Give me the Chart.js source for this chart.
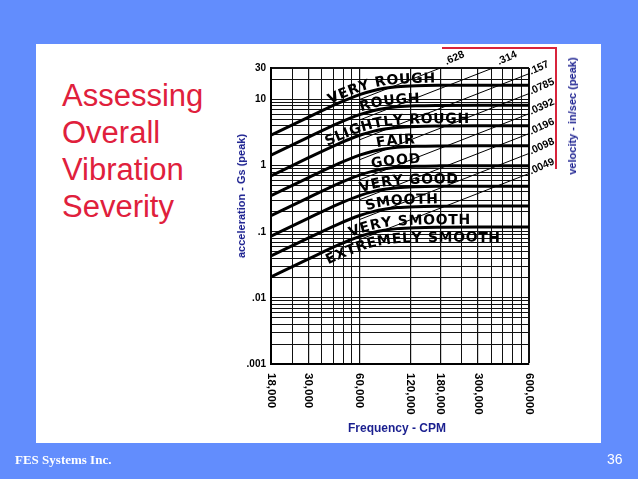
<!DOCTYPE html>
<html>
<head>
<meta charset="utf-8">
<script src="https://cdn.jsdelivr.net/npm/chart.js@4.4.1/dist/chart.umd.min.js"></script>
<style>
  html, body { margin: 0; padding: 0; }
  body { width: 638px; height: 479px; background: #628dfd; position: relative; overflow: hidden;
         font-family: "Liberation Sans", Arial, sans-serif; }
  #panel { position: absolute; left: 36px; top: 44px; width: 565px; height: 399px; background: #fff; }
  #title { position: absolute; left: 62px; top: 77px; color: #e0203c; font-size: 31px; line-height: 37px; }
  #bracket { position: absolute; left: 442px; top: 47px; width: 113px; height: 120px;
             border-top: 2px solid #d8243c; border-right: 2px solid #d8243c; }
  .axt { position: absolute; color: #1a1f8f; font-weight: bold; white-space: nowrap; }
  .vert { transform: translate(-50%, -50%) rotate(-90deg); }
  #footL { position: absolute; left: 15px; top: 452px; color: #fff; font: bold 13px "Liberation Serif", "Times New Roman", serif; }
  #footR { position: absolute; left: 607px; top: 451px; color: #fff; font-size: 14px; }
  canvas { position: absolute; left: 0; top: 0; }
</style>
</head>
<body>
<div id="panel"></div>
<div id="title">Assessing<br>Overall<br>Vibration<br>Severity</div>
<div id="bracket"></div>
<canvas id="chart" width="638" height="479"></canvas>
<div class="axt vert" style="left:241px; top:196px; font-size:11px;">acceleration - Gs (peak)</div>
<div class="axt vert" style="left:572px; top:116px; font-size:11px;">velocity - in/sec (peak)</div>
<div class="axt" style="left:397px; top:428px; font-size:12px; transform:translate(-50%,-50%);">Frequency - CPM</div>
<div id="footL">FES Systems Inc.</div>
<div id="footR">36</div>

<script>
// frequency (CPM) at which the severity boundaries were read
const cpmPoints = [18000, 30000, 45000, 60000, 72000, 84000, 100000, 130000, 180000, 300000, 600000];

// boundary curves (acceleration, g peak), top to bottom
const edgeVeryRough     = [2.9, 5.43, 8.83, 11.9, 13.6, 14.8, 15.6, 16.15, 16.4, 16.5, 16.5];
const edgeRough         = [1.44, 2.7, 4.39, 5.9, 6.77, 7.34, 7.76, 8.03, 8.14, 8.2, 8.2];
const edgeSlightlyRough = [0.70, 1.32, 2.14, 2.88, 3.3, 3.58, 3.78, 3.92, 3.97, 4.0, 4.0];
const edgeFair          = [0.352, 0.66, 1.07, 1.44, 1.65, 1.79, 1.89, 1.96, 1.99, 2.0, 2.0];
const edgeGood          = [0.176, 0.329, 0.535, 0.719, 0.826, 0.895, 0.946, 0.979, 0.993, 1.0, 1.0];
const edgeVeryGood      = [0.086, 0.161, 0.262, 0.352, 0.405, 0.439, 0.464, 0.48, 0.487, 0.49, 0.49];
const edgeSmooth        = [0.043, 0.081, 0.131, 0.176, 0.202, 0.219, 0.232, 0.24, 0.243, 0.245, 0.245];
const edgeVerySmooth    = [0.0208, 0.0388, 0.0631, 0.0848, 0.0975, 0.1056, 0.1116, 0.1155, 0.1172, 0.118, 0.118];
const edges = [edgeVeryRough, edgeRough, edgeSlightlyRough, edgeFair, edgeGood, edgeVeryGood, edgeSmooth, edgeVerySmooth];

// zone names, where each starts (CPM), which boundary it rides on
const zoneNames    = ['VERY ROUGH', 'ROUGH', 'SLIGHTLY ROUGH', 'FAIR', 'GOOD', 'VERY GOOD', 'SMOOTH', 'VERY SMOOTH', 'EXTREMELY SMOOTH'];
const zoneStartCpm = [40000, 61000, 38500, 76000, 71000, 61000, 66000, 53000, 39000];
const zoneEdge     = [0, 1, 2, 3, 4, 5, 6, 7, 7];

// constant-velocity lines (in/sec peak): g at the start and end frequency
const velLabels  = ['.628', '.314', '.157', '.0785', '.0392', '.0196', '.0098', '.0049'];
const velFromCpm = 60000, velToCpm = 600000;
const velFromG   = [10, 4.9, 2.46, 1.23, 0.61, 0.305, 0.153, 0.076];
const velToG     = [100, 49, 24.6, 12.3, 6.1, 3.05, 1.53, 0.76];

// axes
const xMin = 18000, xMax = 600000, yMin = 0.001, yMax = 30;
const xGrid = [18000, 24000, 30000, 36000, 42000, 48000, 54000, 60000,
               120000, 180000, 240000, 300000, 360000, 420000, 480000, 540000, 600000];
const xTickVals = [18000, 30000, 60000, 120000, 180000, 300000, 600000];
const xTickText = ['18,000', '30,000', '60,000', '120,000', '180,000', '300,000', '600,000'];
const yTickVals = [30, 10, 1, 0.1, 0.01, 0.001];
const yTickText = ['30', '10', '1', '.1', '.01', '.001'];

// log-paper horizontal rules: 1..9 per decade, up to 30
const yGrid = [];
for (let d = -3; d <= 1; d++) for (let m = 1; m <= 9; m++) { const v = m * Math.pow(10, d); if (v <= yMax * 1.0001) yGrid.push(v); }

const FONT = '"Liberation Sans", Arial, sans-serif';

function curveY(meta, px) {
  const pts = meta.data;
  if (px <= pts[0].x) return pts[0].y;
  for (let i = 1; i < pts.length; i++) {
    if (px <= pts[i].x) { const a = pts[i - 1], b = pts[i]; return a.y + (px - a.x) / (b.x - a.x) * (b.y - a.y); }
  }
  return pts[pts.length - 1].y;
}

function textAlong(ctx, meta, text, startX, off, spacing) {
  let cx = startX;
  for (const ch of text) {
    const w = ctx.measureText(ch).width, mid = cx + w / 2;
    const ang = Math.atan2(curveY(meta, mid + 5) - curveY(meta, mid - 5), 10);
    ctx.save();
    ctx.translate(mid, curveY(meta, mid) + off);
    ctx.rotate(ang);
    ctx.fillText(ch, 0, 0);
    ctx.restore();
    cx += (w + spacing) * Math.cos(ang);
  }
}

const overlay = {
  id: 'overlay',
  afterDatasetsDraw(chart) {
    const { ctx, chartArea: a } = chart, x = chart.scales.x, y = chart.scales.y;
    ctx.save();
    ctx.fillStyle = '#000';

    // y tick labels
    ctx.font = 'bold 10px ' + FONT; ctx.textAlign = 'right'; ctx.textBaseline = 'middle';
    yTickVals.forEach((v, i) => ctx.fillText(yTickText[i], a.left - 5, y.getPixelForValue(v)));

    // x tick labels, turned clockwise
    ctx.font = 'bold 11.5px ' + FONT; ctx.textAlign = 'left';
    xTickVals.forEach((v, i) => {
      ctx.save(); ctx.translate(x.getPixelForValue(v), a.bottom + 9); ctx.rotate(Math.PI / 2);
      ctx.fillText(xTickText[i], 0, 0); ctx.restore();
    });

    // velocity labels
    ctx.font = 'bold 10.5px ' + FONT; ctx.textBaseline = 'alphabetic';
    velLabels.forEach((t, i) => {
      let px, py;
      if (velToG[i] > yMax) {
        const f = Math.log(yMax / velFromG[i]) / Math.log(velToG[i] / velFromG[i]);
        const cpm = Math.exp(Math.log(velFromCpm) + f * Math.log(velToCpm / velFromCpm));
        px = x.getPixelForValue(cpm) + 6; py = a.top - 3;
      } else {
        px = a.right + 2; py = y.getPixelForValue(velToG[i]) + 1;
      }
      ctx.save(); ctx.translate(px, py); ctx.rotate(-0.42); ctx.fillText(t, 0, 0); ctx.restore();
    });

    // zone names along the boundaries
    ctx.font = 'bold 14px "DejaVu Sans", sans-serif'; ctx.textAlign = 'center';
    zoneNames.forEach((t, i) => {
      const meta = chart.getDatasetMeta(zoneEdge[i]);
      const off = i === zoneNames.length - 1 ? 14.5 : -3;
      textAlong(ctx, meta, t, x.getPixelForValue(zoneStartCpm[i]), off, 0.6);
    });
    ctx.restore();
  }
};

const datasets = edges.map((e) => ({
  data: cpmPoints.map((c, j) => ({ x: c, y: e[j] })),
  borderColor: '#000', borderWidth: 3, pointRadius: 0, cubicInterpolationMode: 'monotone', fill: false
}));
velLabels.forEach((t, i) => datasets.push({
  data: [{ x: velFromCpm, y: velFromG[i] }, { x: velToCpm, y: velToG[i] }],
  borderColor: '#000', borderWidth: 1, pointRadius: 0, fill: false
}));

new Chart(document.getElementById('chart'), {
  type: 'line',
  data: { datasets },
  options: {
    responsive: false, animation: false, devicePixelRatio: 1,
    layout: { padding: { left: 271, right: 109, top: 68, bottom: 115 } },
    plugins: { legend: { display: false }, tooltip: { enabled: false } },
    scales: {
      x: {
        type: 'logarithmic', min: xMin, max: xMax,
        afterBuildTicks: (s) => { s.ticks = xGrid.map((v) => ({ value: v })); },
        ticks: { display: false },
        grid: { color: '#111', drawTicks: false,
                lineWidth: (c) => (c.tick && c.tick.value === xMax ? 2 : (xTickVals.includes(c.tick && c.tick.value) ? 1.2 : 1)) },
        border: { display: true, color: '#000', width: 2 }
      },
      y: {
        type: 'logarithmic', min: yMin, max: yMax,
        afterBuildTicks: (s) => { s.ticks = yGrid.map((v) => ({ value: v })); },
        ticks: { display: false },
        grid: { color: '#111', drawTicks: false,
                lineWidth: (c) => (c.tick && c.tick.value >= yMax * 0.999 ? 2 : 1) },
        border: { display: true, color: '#000', width: 2 }
      }
    }
  },
  plugins: [overlay]
});
</script>
</body>
</html>
